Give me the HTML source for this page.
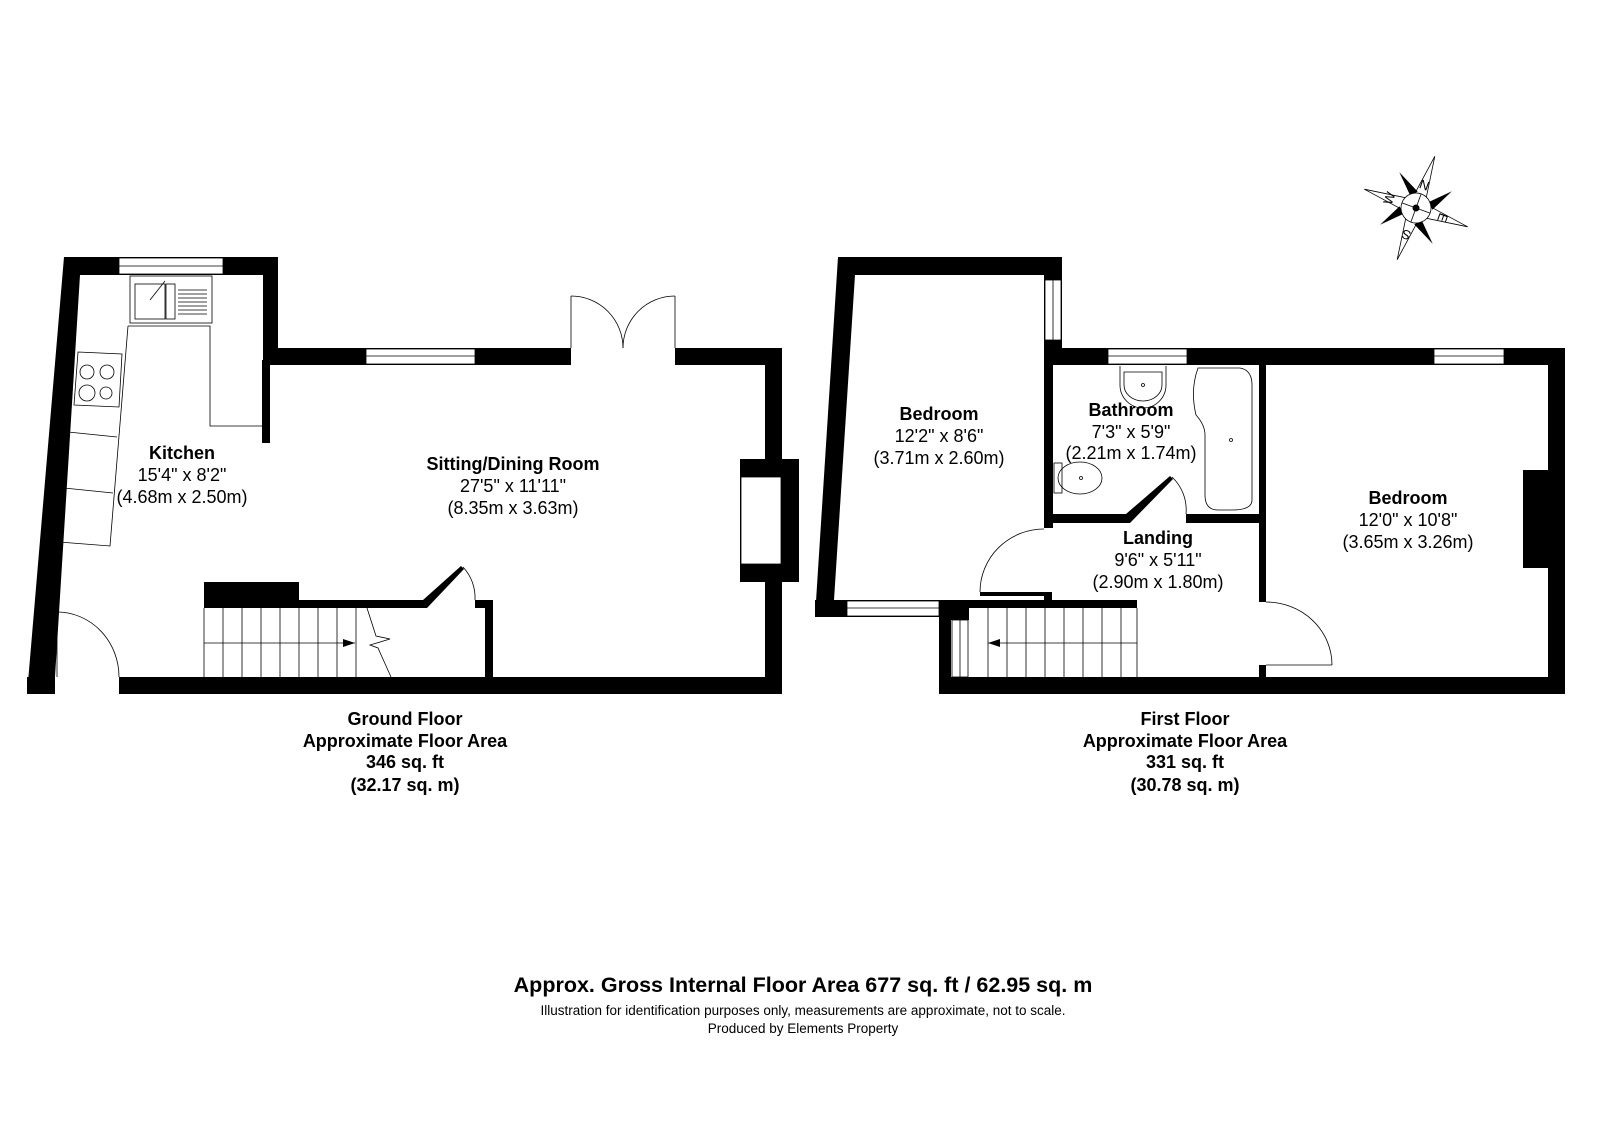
<!DOCTYPE html>
<html><head><meta charset="utf-8"><style>
html,body{margin:0;padding:0;background:#fff}
svg{display:block}
text{font-family:"Liberation Sans",Arial,sans-serif;fill:#000;text-anchor:middle}
.b{font-weight:bold;font-size:18px}
.r{font-size:18px}
.w{fill:#000}
.win{fill:#fff;stroke:#000;stroke-width:0.8}
.ln{fill:none;stroke:#000;stroke-width:0.8}
</style></head><body>
<svg width="1600" height="1130" viewBox="0 0 1600 1130" xmlns="http://www.w3.org/2000/svg">
<!-- GROUND FLOOR walls -->
<polygon class="w" points="64,257 80,257 80,275 55,677 55,694 27,694"/>
<rect class="w" x="64" y="257" width="214" height="18"/>
<rect class="win" x="119" y="258" width="104" height="16"/>
<line class="ln" x1="119" y1="266" x2="223" y2="266"/>
<rect class="w" x="263" y="257" width="15" height="108"/>
<rect class="w" x="262" y="360" width="8" height="83"/>
<rect class="w" x="263" y="348" width="308" height="17"/>
<rect class="win" x="366" y="349" width="109" height="15"/>
<line class="ln" x1="366" y1="356" x2="475" y2="356"/>
<rect class="w" x="675" y="348" width="107" height="17"/>
<rect class="w" x="765" y="348" width="17" height="346"/>
<rect class="w" x="740" y="459" width="59" height="123"/>
<rect class="win" x="741" y="477" width="40" height="87"/>
<rect class="w" x="119" y="677" width="663" height="17"/>
<rect class="w" x="27" y="677" width="28" height="17"/>
<!-- french doors -->
<line class="ln" x1="571" y1="296" x2="571" y2="348"/>
<line class="ln" x1="675" y1="296" x2="675" y2="348"/>
<path class="ln" d="M571,296 A52,52 0 0 1 623,348"/>
<path class="ln" d="M675,296 A52,52 0 0 0 623,348"/>
<!-- front door -->
<line class="ln" x1="57" y1="612" x2="57" y2="677"/>
<path class="ln" d="M57,612 A62,65 0 0 1 119,677"/>
<!-- stairs -->
<rect class="w" x="204" y="582" width="95" height="26"/>
<rect class="w" x="299" y="600" width="124" height="8"/>
<polygon class="w" points="423,600 461,566 464,569 427,608 423,608"/>
<path class="ln" d="M463,567 A45,45 0 0 1 475,600"/>
<rect class="w" x="475" y="600" width="18" height="8"/>
<rect class="w" x="485" y="600" width="8" height="80"/>
<g class="ln">
<line x1="204" y1="608" x2="204" y2="677"/>
<line x1="223" y1="608" x2="223" y2="677"/><line x1="242" y1="608" x2="242" y2="677"/>
<line x1="261" y1="608" x2="261" y2="677"/><line x1="280" y1="608" x2="280" y2="677"/>
<line x1="299" y1="608" x2="299" y2="677"/><line x1="318" y1="608" x2="318" y2="677"/>
<line x1="337" y1="608" x2="337" y2="677"/><line x1="356" y1="608" x2="356" y2="677"/>
<line x1="204" y1="643" x2="355" y2="643"/>
<polyline points="367,608 376,636 390,639 370,645 378,648 391,677"/>
</g>
<polygon points="343,639 355,643 343,647"/>
<!-- kitchen fittings -->
<rect class="ln" x="130" y="276" width="82" height="47"/>
<rect class="ln" x="135" y="284" width="30" height="35"/>
<rect class="ln" x="166" y="284" width="9" height="35"/>
<g class="ln"><line x1="178" y1="290" x2="207" y2="290"/><line x1="178" y1="294" x2="207" y2="294"/><line x1="178" y1="298" x2="207" y2="298"/><line x1="178" y1="302" x2="207" y2="302"/><line x1="178" y1="306" x2="207" y2="306"/><line x1="178" y1="310" x2="207" y2="310"/><line x1="178" y1="314" x2="207" y2="314"/>
<line x1="150" y1="300" x2="165" y2="281"/></g>
<polyline class="ln" points="128,326 210,326 210,426 262,426"/>
<polyline class="ln" points="128,326 110,546 59,542"/>
<line class="ln" x1="68" y1="432" x2="117" y2="437"/>
<line class="ln" x1="64" y1="488" x2="113" y2="493"/>
<polygon class="ln" points="78,352 122,354 119,407 74,405"/>
<circle class="ln" cx="87" cy="372" r="7"/><circle class="ln" cx="107" cy="372" r="7"/>
<circle class="ln" cx="87" cy="393" r="8"/><circle class="ln" cx="106" cy="393" r="6"/>
<!-- FIRST FLOOR walls -->
<polygon class="w" points="838,257 855,257 855,275 834,600 834,617 815,617"/>
<rect class="w" x="838" y="257" width="224" height="18"/>
<rect class="w" x="1044" y="257" width="18" height="108"/>
<rect class="win" x="1045" y="280" width="16" height="60"/>
<line class="ln" x1="1053" y1="280" x2="1053" y2="340"/>
<rect class="w" x="1044" y="348" width="9" height="180"/>
<rect class="w" x="1044" y="348" width="521" height="17"/>
<rect class="win" x="1108" y="349" width="79" height="15"/>
<line class="ln" x1="1108" y1="356" x2="1187" y2="356"/>
<rect class="win" x="1434" y="349" width="70" height="15"/>
<line class="ln" x1="1434" y1="356" x2="1504" y2="356"/>
<rect class="w" x="1548" y="348" width="17" height="346"/>
<rect class="w" x="1523" y="470" width="25" height="98"/>
<rect class="w" x="951" y="677" width="614" height="17"/>
<rect class="w" x="1259" y="365" width="7" height="237"/>
<rect class="w" x="1259" y="665" width="7" height="12"/>
<rect class="w" x="1044" y="514" width="82" height="9"/>
<rect class="w" x="1186" y="514" width="80" height="9"/>
<polygon class="w" points="1126,514 1170,476 1173,479 1130,523 1126,523"/>
<path class="ln" d="M1172,477 A45,45 0 0 1 1186,514"/>
<rect class="w" x="815" y="600" width="124" height="17"/>
<rect class="win" x="847" y="601" width="92" height="15"/>
<line class="ln" x1="847" y1="608" x2="939" y2="608"/>
<rect class="w" x="939" y="600" width="30" height="20"/>
<rect class="w" x="939" y="600" width="198" height="8"/>
<rect class="w" x="939" y="600" width="12" height="94"/>
<rect class="win" x="952" y="620" width="16" height="57"/>
<line class="ln" x1="960" y1="620" x2="960" y2="677"/>
<rect class="w" x="1044" y="592" width="8" height="10"/>
<rect class="w" x="980" y="592" width="64" height="4"/>
<path class="ln" d="M1044,529 A64,63 0 0 0 980,592"/>
<path class="ln" d="M1266,602 A66,63 0 0 1 1332,665"/>
<line class="ln" x1="1266" y1="665" x2="1332" y2="665"/>
<g class="ln">
<line x1="988" y1="608" x2="988" y2="677"/><line x1="1007" y1="608" x2="1007" y2="677"/>
<line x1="1026" y1="608" x2="1026" y2="677"/><line x1="1045" y1="608" x2="1045" y2="677"/>
<line x1="1064" y1="608" x2="1064" y2="677"/><line x1="1083" y1="608" x2="1083" y2="677"/>
<line x1="1102" y1="608" x2="1102" y2="677"/><line x1="1121" y1="608" x2="1121" y2="677"/>
<line x1="1137" y1="608" x2="1137" y2="677"/>
<line x1="988" y1="643" x2="1137" y2="643"/>
</g>
<polygon points="988,643 1000,639 1000,647"/>
<!-- bathroom fittings -->
<path class="ln" d="M1120,366 L1120,385 A22,22 0 0 0 1166,385 L1166,366"/>
<path class="ln" d="M1124,372 L1162,372 L1162,385 A19,16 0 0 1 1124,385 Z"/>
<circle class="ln" cx="1143" cy="385" r="1.5"/>
<path class="ln" d="M1198,368 L1240,368 Q1252,370 1252,385 L1252,500 Q1252,510 1232,510 L1218,510 Q1205,510 1205,495 L1205,435 Q1205,425 1196,415 Q1190,390 1198,368 Z"/>
<circle class="ln" cx="1231" cy="440" r="1.5"/>
<rect class="ln" x="1054" y="463" width="8" height="30"/>
<ellipse class="ln" cx="1080" cy="478" rx="22" ry="16"/>
<circle class="ln" cx="1081" cy="478" r="1.5"/>
<!-- compass -->
<g transform="translate(1416,208) rotate(20)">
<polygon class="ln" points="0,-55 7,-7 55,0 7,7 0,55 -7,7 -55,0 -7,-7" style="fill:#fff"/>
<polygon class="w" points="-10,-10 -28,-28 -4,-16"/>
<polygon class="w" points="10,-10 28,-28 16,-4"/>
<polygon class="w" points="10,10 28,28 4,16"/>
<polygon class="w" points="-10,10 -28,28 -16,4"/>
<circle class="ln" cx="0" cy="0" r="15" style="fill:#fff"/>
<line class="ln" x1="0" y1="-15" x2="0" y2="15"/><line class="ln" x1="-15" y1="0" x2="15" y2="0"/>
<circle cx="0" cy="0" r="3.5"/>
<text x="0" y="-20" style="font-size:13px">N</text>
<text x="29" y="5" style="font-size:13px" transform="rotate(90 29 0)">E</text>
<text x="0" y="34" style="font-size:13px" transform="rotate(180 0 29)">S</text>
<text x="-29" y="5" style="font-size:13px" transform="rotate(-90 -29 0)">W</text>
</g>
<!-- labels -->
<text class="b" x="182" y="459">Kitchen</text>
<text class="r" x="182" y="481">15'4" x 8'2"</text>
<text class="r" x="182" y="503">(4.68m x 2.50m)</text>
<text class="b" x="513" y="470">Sitting/Dining Room</text>
<text class="r" x="513" y="492">27'5" x 11'11"</text>
<text class="r" x="513" y="514">(8.35m x 3.63m)</text>
<text class="b" x="939" y="420">Bedroom</text>
<text class="r" x="939" y="442">12'2" x 8'6"</text>
<text class="r" x="939" y="464">(3.71m x 2.60m)</text>
<text class="b" x="1131" y="416">Bathroom</text>
<text class="r" x="1131" y="438">7'3" x 5'9"</text>
<text class="r" x="1131" y="459">(2.21m x 1.74m)</text>
<text class="b" x="1158" y="544">Landing</text>
<text class="r" x="1158" y="566">9'6" x 5'11"</text>
<text class="r" x="1158" y="588">(2.90m x 1.80m)</text>
<text class="b" x="1408" y="504">Bedroom</text>
<text class="r" x="1408" y="526">12'0" x 10'8"</text>
<text class="r" x="1408" y="548">(3.65m x 3.26m)</text>
<text class="b" x="405" y="725">Ground Floor</text>
<text class="b" x="405" y="747">Approximate Floor Area</text>
<text class="b" x="405" y="768">346 sq. ft</text>
<text class="b" x="405" y="791">(32.17 sq. m)</text>
<text class="b" x="1185" y="725">First Floor</text>
<text class="b" x="1185" y="747">Approximate Floor Area</text>
<text class="b" x="1185" y="768">331 sq. ft</text>
<text class="b" x="1185" y="791">(30.78 sq. m)</text>
<text x="803" y="992" style="font-weight:bold;font-size:21.5px">Approx. Gross Internal Floor Area 677 sq. ft / 62.95 sq. m</text>
<text x="803" y="1015" style="font-size:13.5px">Illustration for identification purposes only, measurements are approximate, not to scale.</text>
<text x="803" y="1033" style="font-size:13.5px">Produced by Elements Property</text>
</svg>
</body></html>
